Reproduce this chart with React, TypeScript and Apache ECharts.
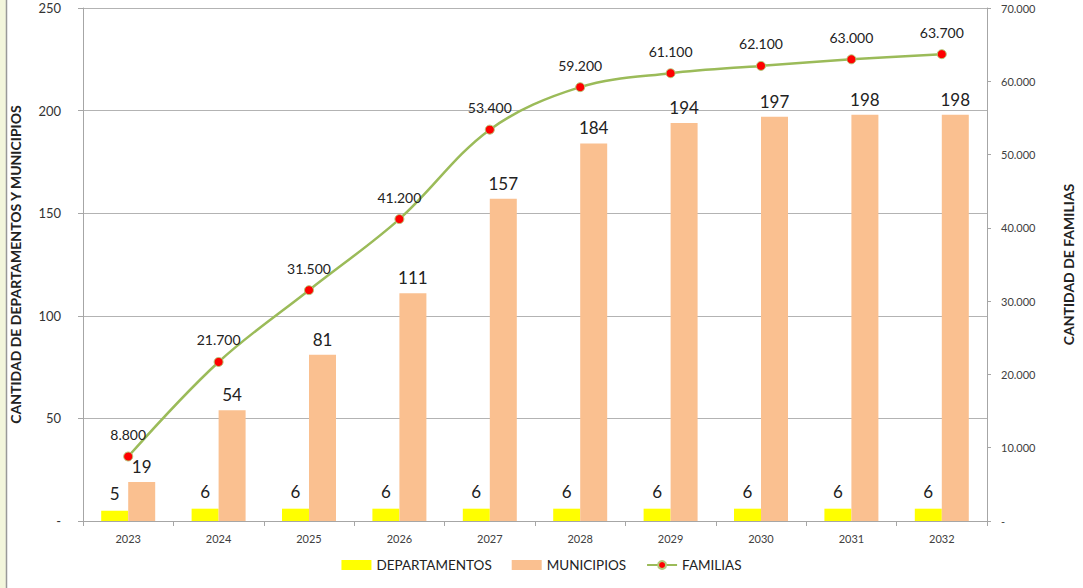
import React, { useEffect, useRef } from "react";
import * as echarts from "echarts";

const years = ["2023", "2024", "2025", "2026", "2027", "2028", "2029", "2030", "2031", "2032"];
const departamentos = [5, 6, 6, 6, 6, 6, 6, 6, 6, 6];
const municipios = [19, 54, 81, 111, 157, 184, 194, 197, 198, 198];
const familias = [8800, 21700, 31500, 41200, 53400, 59200, 61100, 62100, 63000, 63700];

const FONT = "Lato, 'Open Sans', sans-serif";

function fmtDot(v: number): string {
  if (v === 0) return "-";
  return String(Math.round(v)).replace(/\B(?=(\d{3})+(?!\d))/g, ".");
}

export default function App() {
  const ref = useRef<HTMLDivElement>(null);
  useEffect(() => {
    if (!ref.current) return;
    const chart = echarts.init(ref.current, undefined, { renderer: "svg" });
    chart.setOption({
      animation: false,
      backgroundColor: "#ffffff",
      textStyle: { fontFamily: FONT },
      graphic: [
        { type: "rect", shape: { x: 0, y: 0, width: 6, height: 588 }, style: { fill: "#f3f6dc" } },
        { type: "line", shape: { x1: 6.5, y1: 0, x2: 6.5, y2: 588 }, style: { stroke: "#999999", lineWidth: 1.5 } },
      ],
      grid: { left: 79, right: 80, top: 8, bottom: 67, containLabel: false },
      legend: {
        bottom: 11,
        left: "center",
        itemWidth: 30,
        itemHeight: 10,
        itemGap: 20,
        textStyle: { fontSize: 13.5, color: "#222", fontFamily: FONT },
        data: [
          { name: "DEPARTAMENTOS", icon: "rect" },
          { name: "MUNICIPIOS", icon: "rect" },
          { name: "FAMILIAS" },
        ],
      },
      xAxis: {
        type: "category",
        data: years,
        boundaryGap: true,
        axisLine: { lineStyle: { color: "#a6a6a6" } },
        axisTick: { show: true, alignWithLabel: false, length: 5, lineStyle: { color: "#a6a6a6" } },
        axisLabel: { fontSize: 11, color: "#404040", margin: 12, fontFamily: FONT },
      },
      yAxis: [
        {
          type: "value",
          min: 0,
          max: 250,
          interval: 50,
          name: "CANTIDAD DE DEPARTAMENTOS Y MUNICIPIOS",
          nameLocation: "middle",
          nameRotate: 90,
          nameGap: 61,
          nameTextStyle: { fontSize: 14, fontWeight: "bold", color: "#222", fontFamily: FONT },
          axisLine: { show: true, lineStyle: { color: "#a6a6a6" } },
          axisTick: { show: true, length: 5, lineStyle: { color: "#a6a6a6" } },
          axisLabel: { fontSize: 13, color: "#333", margin: 22, formatter: (v: number) => (v === 0 ? "-" : String(v)) },
          splitLine: { show: true, lineStyle: { color: "#b3b3b3" } },
        },
        {
          type: "value",
          min: 0,
          max: 70000,
          interval: 10000,
          position: "right",
          name: "CANTIDAD DE FAMILIAS",
          nameLocation: "middle",
          nameRotate: 90,
          nameGap: 74,
          nameTextStyle: { fontSize: 14, fontWeight: "bold", color: "#222", fontFamily: FONT },
          axisLine: { show: true, lineStyle: { color: "#a6a6a6" } },
          axisTick: { show: true, length: 4, lineStyle: { color: "#a6a6a6" } },
          axisLabel: { fontSize: 11, color: "#404040", margin: 14, formatter: (v: number) => fmtDot(v) },
          splitLine: { show: false },
        },
      ],
      series: [
        {
          name: "DEPARTAMENTOS",
          type: "bar",
          yAxisIndex: 0,
          data: departamentos,
          barWidth: 27,
          barGap: "0%",
          itemStyle: { color: "#ffff00" },
          label: { show: true, position: "top", distance: 9, fontSize: 17, color: "#222", fontFamily: FONT },
        },
        {
          name: "MUNICIPIOS",
          type: "bar",
          yAxisIndex: 0,
          data: municipios,
          barWidth: 27,
          barGap: "0%",
          itemStyle: { color: "#fac090" },
          label: { show: true, position: "top", distance: 7, fontSize: 17, color: "#222", fontFamily: FONT },
        },
        {
          name: "FAMILIAS",
          type: "line",
          yAxisIndex: 1,
          data: familias,
          smooth: 0.35,
          symbol: "circle",
          symbolSize: 9,
          lineStyle: { color: "#9bbb59", width: 2.5 },
          itemStyle: { color: "#ff0000", borderColor: "#b5c97a", borderWidth: 1 },
          label: {
            show: true,
            position: "top",
            distance: 10,
            fontSize: 14,
            color: "#222",
            fontFamily: FONT,
            formatter: (p: any) => fmtDot(p.value),
          },
          z: 5,
        },
      ],
    });
    return () => chart.dispose();
  }, []);
  return <div ref={ref} style={{ position: "absolute", left: 0, top: 0, width: 1083, height: 588 }} />;
}
